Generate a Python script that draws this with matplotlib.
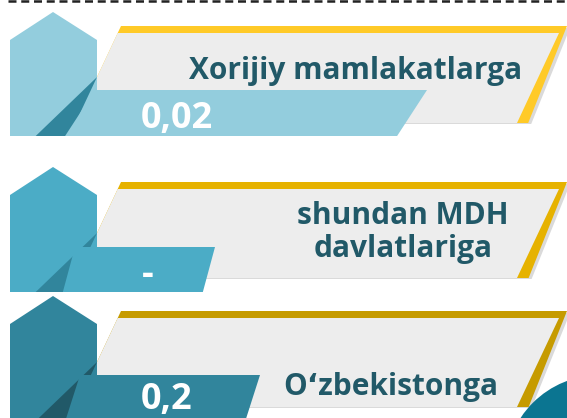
import matplotlib
matplotlib.use('Agg')
import matplotlib.pyplot as plt
from matplotlib.patches import Polygon, Circle

# Chart content
labels = ['Xorijiy mamlakatlarga', 'shundan MDH\ndavlatlariga', 'Oʻzbekistonga']
values = ['0,02', '-', '0,2']

# Colours per row
tile_colors = ['#93CDDD', '#4BACC6', '#31859C']
shade_colors = ['#31859C', '#31859C', '#215968']
frame_colors = ['#FFCA28', '#E6B200', '#C69B00']
text_color = '#215968'
banner_color = '#EDEDED'

# Layout in pixels (y grows downwards)
ban_top = [26, 182, 311]
ban_bot = [123, 278, 407]
hex_top = [12, 167, 296]
hex_bot = [136, 292, 440]
bar_top = [90, 247, 375]
bar_left = [95, 75, 80]
bar_right = [427, 215, 260]
bar_skew = [0.65, 0.27, 0.32]
label_x = [356, 403, 391]
label_base = [[79], [224, 257], [395]]
value_x = [177, 148, 167]
value_base = [128, 284, 409]

W, H = 567, 418
fig = plt.figure(figsize=(W / 100, H / 100), dpi=100)
ax = fig.add_axes([0, 0, 1, 1])
ax.set_xlim(0, W)
ax.set_ylim(H, 0)
ax.axis('off')

fonts = ['Open Sans', 'DejaVu Sans']

# dashed rule at the top
ax.plot([8, W], [1.3, 1.3], color='#222222', lw=1.8, ls=(0, (3.2, 1.9)))

lslope, rslope = 0.47, 0.40
for i in range(3):
    t, b = ban_top[i], ban_bot[i]
    # light shadow behind the frame
    ax.add_patch(Polygon([(123, t + 2), (W + 3, t + 2), (W + 3 - rslope * (b - t), b + 1),
                          (123 - lslope * (b - t), b + 1)], closed=True, fc='#DADADA', ec='none'))
    # yellow frame
    ax.add_patch(Polygon([(121, t), (W, t), (W - rslope * (b - t), b),
                          (121 - lslope * (b - t), b)], closed=True,
                         fc=frame_colors[i], ec='none'))
    # grey banner inside the frame
    it = t + 7
    x0 = 121 - lslope * 7
    ax.add_patch(Polygon([(x0, it), (559, it), (517, b), (x0 - lslope * (b - it), b)],
                         closed=True, fc=banner_color, ec='none'))

    # house-shaped tile
    sh = hex_top[i] + 28
    ax.add_patch(Polygon([(10, hex_bot[i]), (10, sh), (53, hex_top[i]), (97, sh), (97, hex_bot[i])],
                         closed=True, fc=tile_colors[i], ec='none'))
    # dark fold
    apex = t + (121 - 97) / lslope
    d = hex_bot[i] - apex
    ax.add_patch(Polygon([(97, apex), (97 - 1.04 * d, hex_bot[i]), (97 - lslope * d, hex_bot[i])],
                         closed=True, fc=shade_colors[i], ec='none'))
    # value bar
    bt, bb, k = bar_top[i], hex_bot[i], bar_skew[i]
    ax.add_patch(Polygon([(bar_left[i], bt), (bar_right[i], bt), (bar_right[i] - k * (bb - bt), bb),
                          (bar_left[i] - k * (bb - bt), bb)], closed=True, fc=tile_colors[i], ec='none'))

    for line, y in zip(labels[i].split('\n'), label_base[i]):
        ax.text(label_x[i], y, line, ha='center', va='baseline', color=text_color,
                fontsize=21.5, fontweight='bold', family=fonts)
    ax.text(value_x[i], value_base[i], values[i], ha='center', va='baseline', color='white',
            fontsize=26, fontweight='bold', family=fonts)

# teal circle in the corner
ax.add_patch(Circle((600, 470), 95, fc='#0B7591', ec='none'))

fig.savefig('out.png', dpi=100)
